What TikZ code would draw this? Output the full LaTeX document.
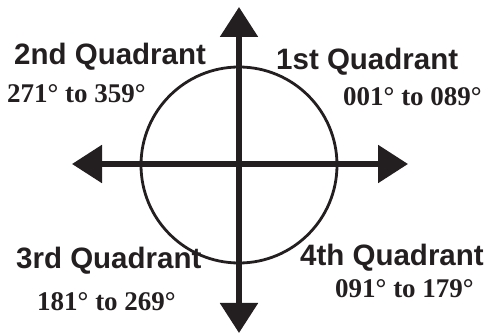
\documentclass[tikz,border=0pt]{standalone}
\usepackage{fontspec}
\usetikzlibrary{arrows.meta}
\newfontfamily\quadsans{Liberation Sans}
\newfontfamily\quadserif{Liberation Serif}
\definecolor{colInk}{HTML}{231F20}
\def\quadfont{\quadsans\bfseries\fontsize{29.5pt}{31pt}\selectfont}
\def\degfont{\quadserif\bfseries\fontsize{27pt}{29pt}\selectfont}
\tikzset{
  axisline/.style={draw=colInk, line width=5.5pt,
    {Triangle[length=30pt,width=37pt]}-{Triangle[length=30pt,width=37pt]}},
  ringline/.style={draw=colInk, line width=2.8pt},
  quadlabel/.style={anchor=base west, font=\quadfont, text=colInk, inner sep=0pt},
  deglabel/.style={anchor=base west, font=\degfont, text=colInk, inner sep=0pt}
}
\begin{document}
\begin{tikzpicture}[x=1pt,y=-1pt]
\useasboundingbox (0,0) rectangle (488,336);

% ---- circle and axes
\coordinate (origin) at (239,165);
\node[ringline, circle, minimum size=196pt, inner sep=0pt] (ring) at (origin) {};
\coordinate (north) at (239,7);
\coordinate (south) at (239,333);
\coordinate (west) at (72,164);
\coordinate (east) at (408,164);
\draw[axisline] (west) -- (east);
\draw[axisline] (south) -- (north);

% ---- quadrant labels
\node[quadlabel] (q2) at (14,65) {2nd Quadrant};
\node[deglabel] (d2) at (7,103) {271°\ to 359°};
\node[quadlabel] (q1) at (276,70) {1st Quadrant};
\node[deglabel] (d1) at (343,106) {001°\ to 089°};
\node[quadlabel] (q3) at (16,269) {3rd Quadrant};
\node[deglabel] (d3) at (37,311) {181°\ to 269°};
\node[quadlabel] (q4) at (300,266) {4th Quadrant};
\node[deglabel] (d4) at (335,298) {091°\ to 179°};
\end{tikzpicture}
\end{document}
